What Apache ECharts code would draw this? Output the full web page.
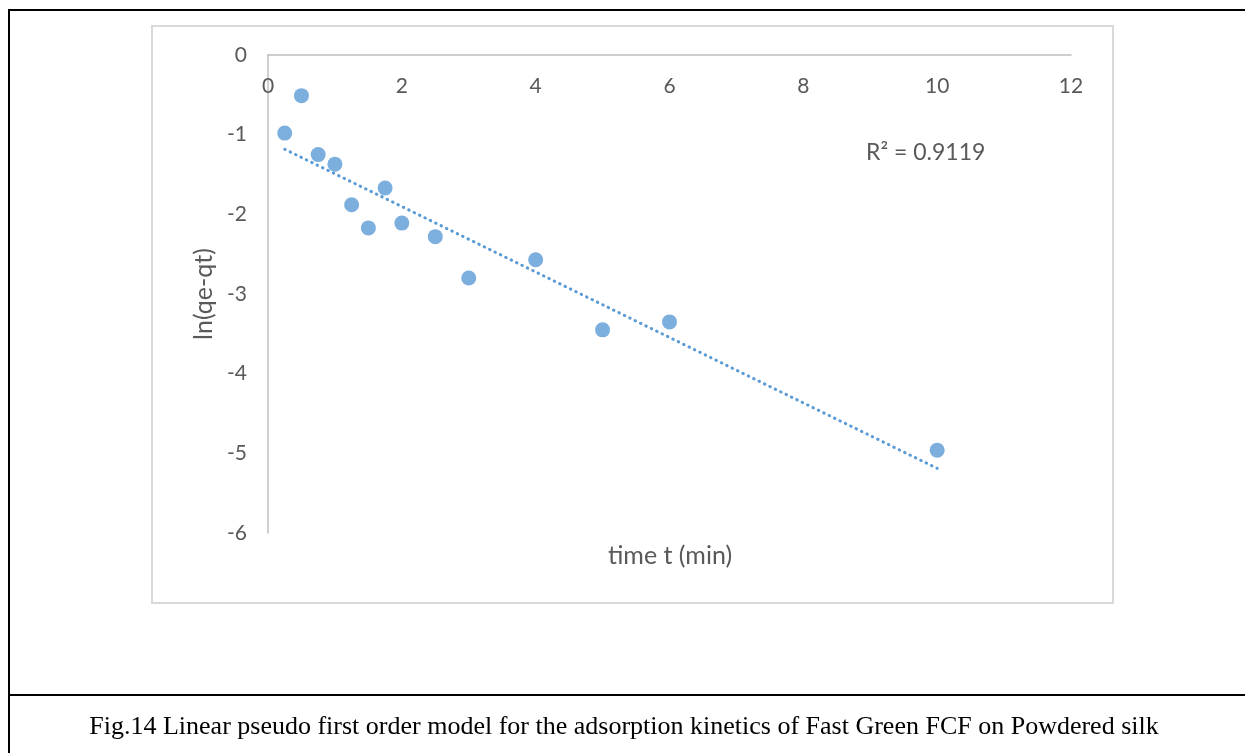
<!DOCTYPE html>
<html>
<head>
<meta charset="utf-8">
<script src="https://cdn.jsdelivr.net/npm/echarts@6/dist/echarts.min.js"></script>
<style>
html,body{margin:0;padding:0;background:#fff;}
#chart{width:1245px;height:753px;}
</style>
</head>
<body>
<div id="chart"></div>
<script>
// Data
const timeT = [0.25, 0.5, 0.75, 1, 1.25, 1.5, 1.75, 2, 2.5, 3, 4, 5, 6, 10];
const lnQeQt = [-0.98, -0.51, -1.25, -1.37, -1.88, -2.17, -1.67, -2.11, -2.28, -2.80, -2.57, -3.45, -3.35, -4.96];
const xTicks = [0, 2, 4, 6, 8, 10, 12];
const yTicks = [0, -1, -2, -3, -4, -5, -6];
const r2Text = 'R\u00B2 = 0.9119';
const xTitle = 'time t (min)';
const yTitle = 'ln(qe-qt)';
const caption = 'Fig.14 Linear pseudo first order model for the adsorption kinetics of Fast Green FCF on Powdered silk';

// Least-squares linear trendline (as Excel computes it)
const n = timeT.length;
const mx = timeT.reduce((a, b) => a + b, 0) / n;
const my = lnQeQt.reduce((a, b) => a + b, 0) / n;
let sxy = 0, sxx = 0;
for (let i = 0; i < n; i++) { sxy += (timeT[i] - mx) * (lnQeQt[i] - my); sxx += (timeT[i] - mx) ** 2; }
const slope = sxy / sxx, intercept = my - slope * mx;
const xMinD = Math.min(...timeT), xMaxD = Math.max(...timeT);
const trend = [[xMinD, intercept + slope * xMinD], [xMaxD, intercept + slope * xMaxD]];

const txt = '#595959';
const font = 'Lato';
const chart = echarts.init(document.getElementById('chart'), null, {renderer: 'canvas'});
chart.setOption({
  animation: false,
  backgroundColor: '#fff',
  grid: {left: 268, top: 55, width: 803, height: 478, containLabel: false},
  xAxis: {
    type: 'value', position: 'top', min: Math.min(...xTicks), max: Math.max(...xTicks), interval: 2,
    axisLine: {show: true, onZero: false, lineStyle: {color: '#bfbfbf', width: 1.5}},
    axisTick: {show: false}, splitLine: {show: false},
    axisLabel: {inside: true, margin: 21, color: txt, fontFamily: font, fontSize: 21}
  },
  yAxis: {
    type: 'value', min: Math.min(...yTicks), max: Math.max(...yTicks), interval: 1,
    axisLine: {show: true, onZero: false, lineStyle: {color: '#bfbfbf', width: 1.5}},
    axisTick: {show: false}, splitLine: {show: false},
    axisLabel: {margin: 21, color: txt, fontFamily: font, fontSize: 21},
    name: yTitle, nameLocation: 'middle', nameGap: 51, nameRotate: 90,
    nameTextStyle: {color: txt, fontFamily: font, fontSize: 25}
  },
  series: [
    {
      type: 'line', data: trend, symbol: 'none', silent: true,
      lineStyle: {color: '#5b9bd5', width: 3, type: [0.5, 5.5], cap: 'round'}, z: 1
    },
    {
      type: 'scatter', data: timeT.map((t, i) => [t, lnQeQt[i]]),
      symbol: 'circle', symbolSize: 15, itemStyle: {color: '#5b9bd5'}, z: 2
    }
  ],
  graphic: [
    {type: 'rect', shape: {x: 152, y: 26, width: 961, height: 577}, style: {fill: 'none', stroke: '#d9d9d9', lineWidth: 2}, z: -1},
    {type: 'line', shape: {x1: 9, y1: 10, x2: 1245, y2: 10}, style: {stroke: '#000', lineWidth: 2}},
    {type: 'line', shape: {x1: 9, y1: 9, x2: 9, y2: 753}, style: {stroke: '#000', lineWidth: 2}},
    {type: 'line', shape: {x1: 9, y1: 695, x2: 1245, y2: 695}, style: {stroke: '#000', lineWidth: 2}},
    {type: 'text', x: 866, y: 153, style: {text: r2Text, fill: txt, font: '23px ' + font, textAlign: 'left', textVerticalAlign: 'middle'}},
    {type: 'text', x: 670, y: 556, style: {text: xTitle, fill: txt, font: '25px ' + font, textAlign: 'center', textVerticalAlign: 'middle'}},
    {type: 'text', x: 624, y: 727, style: {text: caption, fill: '#000', font: '26px "Liberation Serif"', textAlign: 'center', textVerticalAlign: 'middle'}}
  ]
});
</script>
</body>
</html>
